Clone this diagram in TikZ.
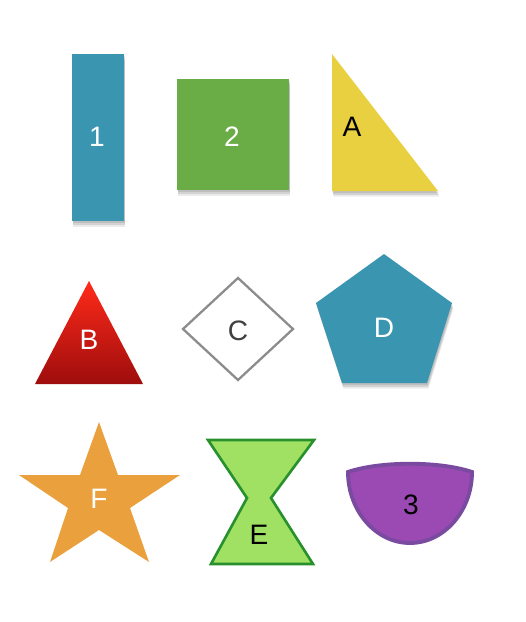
\documentclass[tikz,border=0pt]{standalone}
\usepackage{fontspec}
\setmainfont{Liberation Sans}
\definecolor{tileBlue}  {RGB}{58, 150, 176}
\definecolor{tileGreen} {RGB}{106,172, 70}
\definecolor{tileYellow}{RGB}{232,208, 64}
\definecolor{starOrange}{RGB}{235,160, 62}
\definecolor{glassGreen}{RGB}{160,224, 98}
\definecolor{glassEdge} {RGB}{40, 145, 45}
\definecolor{bowlPurple}{RGB}{155, 74,180}
\definecolor{bowlEdge}  {RGB}{122, 74,160}

\begin{document}
\begin{tikzpicture}[x=0.02cm,y=-0.02cm,
          lbl/.style={font=\fontsize{16}{18}\selectfont,inner sep=0pt},
          lblw/.style={lbl,text=white},
          sh/.style={preaction={fill=black,opacity=0.10,
                       transform canvas={xshift=0.4pt,yshift=-1.2pt}},
                     preaction={fill=black,opacity=0.10,
                       transform canvas={xshift=0.6pt,yshift=-2.2pt}},
                     preaction={fill=black,opacity=0.08,
                       transform canvas={xshift=0.8pt,yshift=-3.2pt}}},
        ]
        \useasboundingbox (0,0) rectangle (526,622);
        % Linha 1
        \fill[tileBlue,sh]   (72,54) rectangle (124,221);
        \fill[tileGreen,sh]  (177,79) rectangle (289,190);
        \fill[tileYellow,sh] (332,54) -- (332,191) -- (438,191) -- cycle;
        % Linha 2
        \shade[top color=red!85!orange!90!white,bottom color=red!60!black!95]
              (89,281) -- (143,384) -- (35,384) -- cycle;
        \draw[gray!90,line width=1.3pt,fill=white]
              (238,278) -- (293,329) -- (238,380) -- (183,329) -- cycle;
        \fill[tileBlue,sh] (384,254) -- (452,303) -- (427,383)
              -- (342,383) -- (316,303) -- cycle;
        % Linha 3
        \fill[starOrange] (99,422) -- (118,475) -- (180,475) -- (130,508)
              -- (149,562) -- (99,530) -- (50,562) -- (68,508)
              -- (19,475) -- (80,475) -- cycle;
        \draw[glassEdge,fill=glassGreen,line width=1.5pt]
              (208,440) -- (314,440) -- (271,498) -- (313,564)
              -- (211,564) -- (247,498) -- cycle;
        \draw[bowlEdge,fill=bowlPurple,line width=2.2pt]
              (348,472) .. controls (380,461) and (440,461) .. (472,472)
              .. controls (472,511) and (444,543) .. (410,543)
              .. controls (376,543) and (348,511) .. (348,472) -- cycle;
        % Rotulos
        \node[lblw] (n1) at (97,137) {1};
        \node[lblw] (n2) at (232,137) {2};
        \node[lbl]  (nA) at (352,127) {A};
        \node[lblw] (nB) at (89,340) {B};
        \node[lbl,text=black!75] (nC) at (238,331) {C};
        \node[lblw] (nD) at (384,328) {D};
        \node[lblw] (nF) at (99,499) {F};
        \node[lbl]  (nE) at (259,535) {E};
        \node[lbl]  (n3) at (411,505) {3};
      \end{tikzpicture}
\end{document}
